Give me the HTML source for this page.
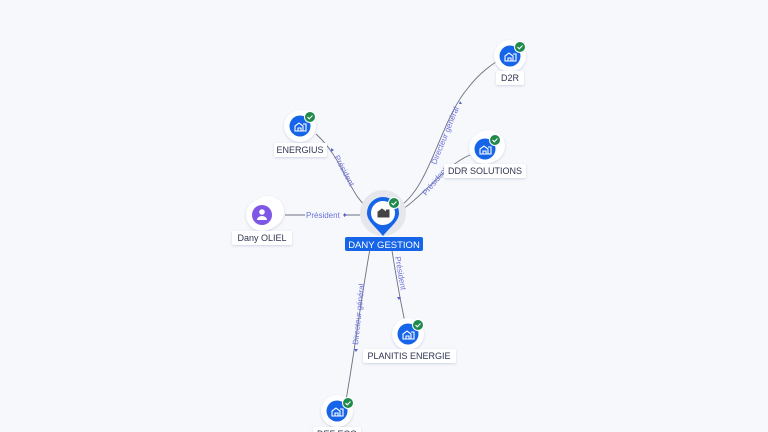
<!DOCTYPE html>
<html><head><style>
html,body{margin:0;padding:0;background:#f7f8fc;width:768px;height:432px;overflow:hidden}
svg{display:block}
text{font-family:"Liberation Sans",sans-serif}
</style></head><body>
<svg width="768" height="432" viewBox="0 0 768 432" xmlns="http://www.w3.org/2000/svg">
<defs>
<filter id="sh" x="-50%" y="-50%" width="200%" height="200%"><feDropShadow dx="0" dy="1" stdDeviation="1.2" flood-color="#8090b0" flood-opacity="0.35"/></filter>
<g id="bld"><path d="M-5,4 V-1 L-1,-4 L3,-1 V4 Z M-2,4 V1 H1 V4 M3,-3 H6 V4 H3" fill="none" stroke="#fff" stroke-width="1.1"/></g>
<g id="chk"><circle r="5.5" fill="#1f8a4c" stroke="#fff" stroke-width="1"/><path d="M-2.5,0 L-0.7,1.8 L2.5,-1.5" fill="none" stroke="#fff" stroke-width="1.1"/></g>
</defs>
<g fill="none" stroke="#6b7080" stroke-width="0.9">
<path d="M316,134 C345,160 350,200 372,210"/>
<path d="M285,215 L368,215"/>
<path d="M397,208 C430,190 440,120 468,88 C480,72 495,62 503,58"/>
<path d="M398,212 C420,200 445,165 470,155"/>
<path d="M390,238 C395,270 400,300 405,322"/>
<path d="M372,238 C362,290 355,350 346,400"/>
</g>
<!-- edge labels -->
<g font-size="8" fill="#6b72d8">
<rect x="305" y="210" width="38" height="10" fill="#f7f8fc"/>
<text x="306" y="218">Président</text>
<path d="M344,213 l3,2 -3,2z" fill="#5a62d0"/>
<text transform="translate(334,157) rotate(62)">Président</text>
<path d="M331,148 l3,2 -3,2z" fill="#5a62d0"/>
<text transform="translate(436,165) rotate(-68)">Directeur général</text>
<path d="M460,101 l2,3 -3,0z" fill="#5a62d0"/>
<text transform="translate(426,196) rotate(-50)">Président</text>
<text transform="translate(395,257) rotate(80)">Président</text>
<path d="M397,297 l4,0 -2,3z" fill="#5a62d0"/>
<text transform="translate(358,345) rotate(-84)">Directeur général</text>
<path d="M354,349 l4,0 -2,3z" fill="#5a62d0"/>
</g>
<!-- center -->
<circle cx="383" cy="213" r="23" fill="#e6e7ec"/>
<path d="M367,213 a16,16 0 1,1 32,0 c0,8 -8,13 -16,23 c-8,-10 -16,-15 -16,-23z" fill="#1664e8"/>
<circle cx="383" cy="213" r="12" fill="#fff"/>
<g transform="translate(383,213)"><path d="M-5,4 V-1 L-1,-4 L3,-1 V4 Z M3,-3 H6 V4 H3" fill="#444" stroke="#444" stroke-width="1"/></g>
<use href="#chk" x="394" y="203"/>
<rect x="345" y="237" width="78" height="14" rx="2" fill="#1664e8"/>
<text x="384" y="248" font-size="9.5" fill="#fff" text-anchor="middle">DANY GESTION</text>
<!-- company nodes -->
<g filter="url(#sh)">
<circle cx="489" cy="146" r="16" fill="#fff"/><circle cx="487" cy="147" r="16" fill="#fff"/>
<circle cx="300" cy="126" r="16" fill="#fff"/>
<circle cx="510" cy="56" r="16" fill="#fff"/>
<circle cx="485" cy="148" r="16" fill="#fff"/>
<circle cx="408" cy="334" r="16" fill="#fff"/>
<circle cx="337" cy="411" r="16" fill="#fff"/>
<circle cx="268" cy="212" r="16" fill="#fff"/><circle cx="265" cy="214" r="16" fill="#fff"/>
<circle cx="262" cy="215" r="16" fill="#fff"/>
</g>
<g fill="#1664e8">
<circle cx="300" cy="126" r="10.5"/><circle cx="510" cy="56" r="10.5"/><circle cx="485" cy="149" r="10.5"/>
<circle cx="408" cy="334" r="10.5"/><circle cx="337" cy="411" r="10.5"/>
</g>
<use href="#bld" x="300" y="127"/><use href="#bld" x="510" y="57"/><use href="#bld" x="485" y="150"/>
<use href="#bld" x="408" y="335"/><use href="#bld" x="337" y="412"/>
<use href="#chk" x="310" y="117"/><use href="#chk" x="520" y="47"/><use href="#chk" x="495" y="140"/>
<use href="#chk" x="418" y="325"/><use href="#chk" x="348" y="403"/>
<circle cx="262" cy="215" r="10" fill="#7e57e6"/>
<circle cx="262" cy="212" r="2.8" fill="#fff"/><path d="M257,220 a5,4 0 0,1 10,0z" fill="#fff"/>
<!-- labels -->
<g font-size="9" fill="#2e3550" text-anchor="middle">
<rect x="274" y="143" width="53" height="14" rx="2" fill="#fff" filter="url(#sh)"/><text x="300" y="153">ENERGIUS</text>
<rect x="496" y="71" width="28" height="14" rx="2" fill="#fff" filter="url(#sh)"/><text x="510" y="81">D2R</text>
<rect x="444" y="164" width="82" height="14" rx="2" fill="#fff" filter="url(#sh)"/><text x="485" y="174">DDR SOLUTIONS</text>
<rect x="232" y="231" width="60" height="14" rx="2" fill="#fff" filter="url(#sh)"/><text x="262" y="241">Dany OLIEL</text>
<rect x="363" y="349" width="93" height="14" rx="2" fill="#fff" filter="url(#sh)"/><text x="409" y="359">PLANITIS ENERGIE</text>
<rect x="313" y="427" width="48" height="14" rx="2" fill="#fff" filter="url(#sh)"/><text x="337" y="437">DEF ECO</text>
</g>
</svg>
</body></html>
